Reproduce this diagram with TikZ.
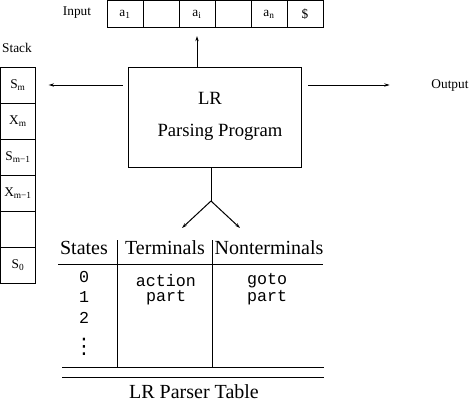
\documentclass[tikz,border=0pt]{standalone}
\usepackage{fontspec}
\setmainfont{Liberation Serif}
\setmonofont{Liberation Mono}
\newfontfamily\symfont{DejaVu Sans}
\usetikzlibrary{arrows.meta}

\begin{document}
\begin{tikzpicture}[x=0.75pt,y=-0.75pt,line width=.75pt,
	every node/.style={inner sep=0pt},
	cell/.style={draw,minimum width=27pt,minimum height=20.25pt,font=\fontsize{10}{12}\selectfont},
	stackcell/.style={draw,minimum width=26.25pt,minimum height=27pt,font=\fontsize{10}{12}\selectfont},
	lbl/.style={font=\fontsize{10}{12}\selectfont},
	hdr/.style={font=\fontsize{15}{18}\selectfont},
	mono/.style={font=\fontsize{12.5}{15}\selectfont\ttfamily},
	arr/.style={-{Stealth[length=4pt,width=2.5pt]}}]
		\useasboundingbox (0,0) rectangle (470,403);
		
		\node[lbl] (in) at (77,13) {Input};
		\node[cell] (a1) at (125,14) {a\textsubscript{1}};
		\node[cell] (c2) at (161,14) {};
		\node[cell] (ai) at (197,14) {a\textsubscript{i}};
		\node[cell] (c4) at (233,14) {};
		\node[cell] (an) at (269,14) {a\textsubscript{n}};
		\node[cell] (end) at (305,14) {\$};
		
		\node[lbl] (stack) at (17,48) {Stack};
		\node[stackcell] (sm) at (18,85) {S\textsubscript{m}};
		\node[stackcell] (xm) at (18,121) {X\textsubscript{m}};
		\node[stackcell] (sm1) at (18,157) {S\textsubscript{m−1}};
		\node[stackcell] (xm1) at (18,193) {X\textsubscript{m−1}};
		\node[stackcell] (blank) at (18,229) {};
		\node[stackcell] (s0) at (18,265) {S\textsubscript{0}};
		
		\node[draw,minimum width=129.75pt,minimum height=75pt] (box) at (214.5,117) {};
		\node[font=\fontsize{14}{16}\selectfont] (lr) at (210,98) {LR};
		\node[font=\fontsize{14}{16}\selectfont] (prog) at (220,132) {Parsing Program};
		
		\node[lbl] (out) at (450,86) {Output};
		
		\draw[arr] (box.north -| ai.south) -- ([yshift=-6pt]ai.south);
		\draw[arr] ([xshift=-3.75pt]box.west |- sm) -- ([xshift=9.5pt]sm.east);
		\draw[arr] ([xshift=5pt]box.east |- sm) -- ([xshift=-31pt]out.west |- sm);
		
		\coordinate (fork) at (211,201);
		\coordinate (tl) at (182,228);
		\coordinate (tr) at (240,228);
		\draw (fork |- box.south) -- (fork);
		\draw[arr] (fork) -- (tl);
		\draw[arr] (fork) -- (tr);
		
		% table
		\node[hdr] (st) at (84,248) {States};
		\node[hdr] (term) at (165,248) {Terminals};
		\node[hdr] (nterm) at (269,248) {Nonterminals};
		\draw (58,264) -- (323,264);
		\draw (117,240) -- (117,367);
		\draw (212,240) -- (212,367);
		\draw (62,367) -- (324,367);
		\draw (62,377) -- (324,377);
		
		\node[mono] (r0) at (84,277) {0};
		\node[mono] (r1) at (84,297) {1};
		\node[mono] (r2) at (84,318) {2};
		\node[font=\fontsize{16}{18}\selectfont\symfont] (rd) at (84,347) {⋮};
		\node[mono] (act) at (166,281) {action};
		\node[mono] (apart) at (166,298) {part};
		\node[mono] (go) at (267,281) {goto};
		\node[mono] (gpart) at (267,298) {part};
		
		\node[hdr] (cap) at (194,392) {LR Parser Table};
	\end{tikzpicture}
\end{document}
